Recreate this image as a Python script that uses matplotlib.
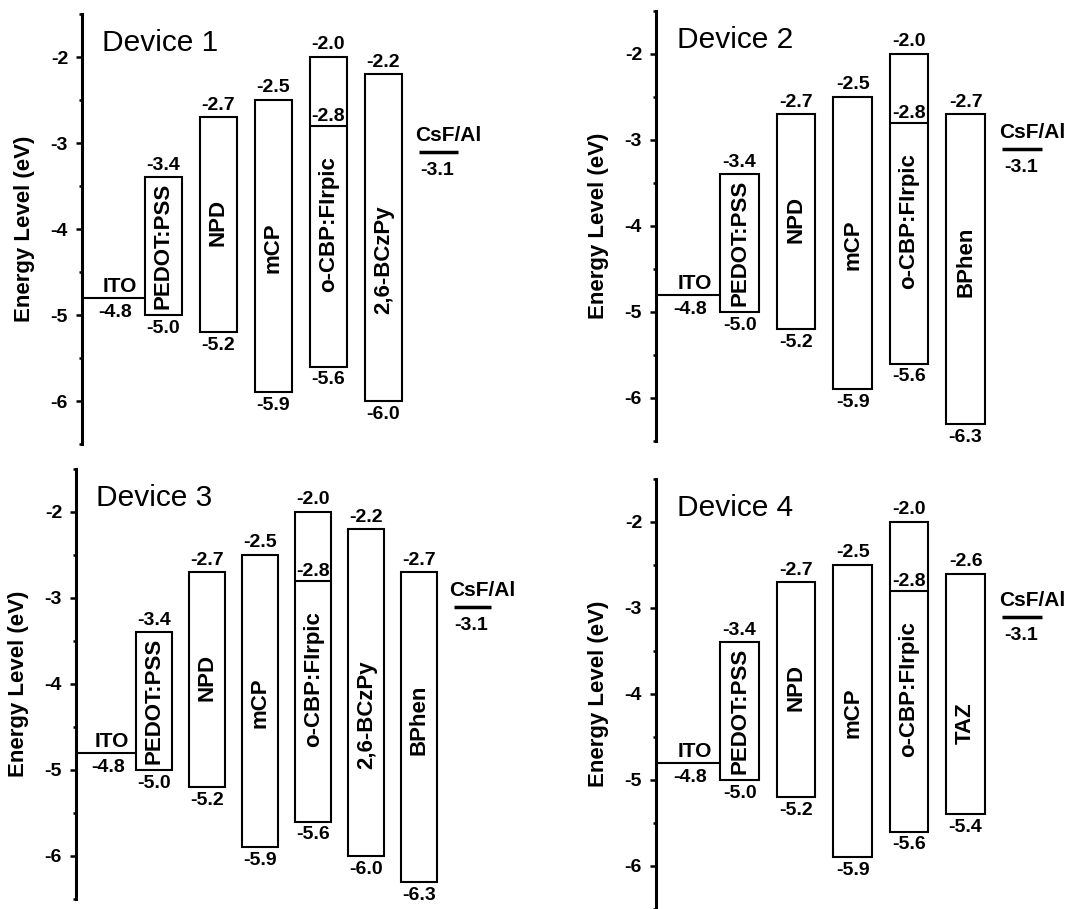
import matplotlib.pyplot as plt
from matplotlib.ticker import MultipleLocator

plt.rcParams['font.family'] = ['Liberation Sans', 'DejaVu Sans']
plt.rcParams['axes.unicode_minus'] = False

# energy levels (eV): LUMO (top) and HOMO (bottom) of each organic layer
titles = ['Device 1', 'Device 2', 'Device 3', 'Device 4']
names = [
    ['PEDOT:PSS', 'NPD', 'mCP', 'o-CBP:FIrpic', '2,6-BCzPy'],
    ['PEDOT:PSS', 'NPD', 'mCP', 'o-CBP:FIrpic', 'BPhen'],
    ['PEDOT:PSS', 'NPD', 'mCP', 'o-CBP:FIrpic', '2,6-BCzPy', 'BPhen'],
    ['PEDOT:PSS', 'NPD', 'mCP', 'o-CBP:FIrpic', 'TAZ'],
]
lumo = [
    [-3.4, -2.7, -2.5, -2.0, -2.2],
    [-3.4, -2.7, -2.5, -2.0, -2.7],
    [-3.4, -2.7, -2.5, -2.0, -2.2, -2.7],
    [-3.4, -2.7, -2.5, -2.0, -2.6],
]
homo = [
    [-5.0, -5.2, -5.9, -5.6, -6.0],
    [-5.0, -5.2, -5.9, -5.6, -6.3],
    [-5.0, -5.2, -5.9, -5.6, -6.0, -6.3],
    [-5.0, -5.2, -5.9, -5.6, -5.4],
]
ito = -4.8
cathode = -3.1
dopant = -2.8  # FIrpic level inside the o-CBP host

# where each material name sits along the box
name_y = {'PEDOT:PSS': -4.2, 'NPD': -3.93, 'mCP': -4.22, 'o-CBP:FIrpic': -3.94,
          '2,6-BCzPy': -4.36, 'BPhen': -4.42, 'TAZ': -4.34}

W, H = 1071, 909
fig = plt.figure(figsize=(W / 100, H / 100), dpi=100)

# left spine x, top y (pixels) and slot spacing for each panel
layout = [(82, 14, 55), (656, 11, 56.5), (76, 469, 53), (656, 479, 56.5)]
ppe = 86  # pixels per eV
bw = 0.68
lw = 1.5
fs_val = 14

for k in range(4):
    left, top, slot = layout[k]
    n = len(names[k])
    xmax = n + 2.3
    width = xmax * slot
    height = 5 * ppe
    ax = fig.add_axes([left / W, 1 - (top + height) / H, width / W, height / H])
    ax.set_xlim(0, xmax)
    ax.set_ylim(-6.5, -1.5)

    xs = [i + 1.48 for i in range(n)]
    ax.bar(xs, [t - b for t, b in zip(lumo[k], homo[k])], bottom=homo[k], width=bw,
           fill=False, edgecolor='black', linewidth=lw)

    for x, nm, t, b in zip(xs, names[k], lumo[k], homo[k]):
        ax.annotate(f'{t:.1f}', (x, t), xytext=(0, 5.5), textcoords='offset points',
                    ha='center', va='baseline', fontsize=fs_val, fontweight='bold')
        ax.annotate(f'{b:.1f}', (x, b), xytext=(0, -3.5), textcoords='offset points',
                    ha='center', va='top', fontsize=fs_val, fontweight='bold')
        ax.text(x, name_y[nm], nm, rotation=90, ha='center', va='center',
                fontsize=16, fontweight='bold')
        if nm.startswith('o-CBP'):
            ax.hlines(dopant, x - bw / 2, x + bw / 2, colors='black', linewidth=lw)
            ax.annotate(f'{dopant:.1f}', (x, dopant), xytext=(0, 3.5), textcoords='offset points',
                        ha='center', va='baseline', fontsize=fs_val, fontweight='bold')

    # ITO anode
    ax.hlines(ito, 0, 1.12, colors='black', linewidth=lw)
    ax.annotate('ITO', (0.68, ito), xytext=(0, 4.5), textcoords='offset points',
                ha='center', va='baseline', fontsize=15, fontweight='bold')
    ax.annotate(f'{ito:.1f}', (0.6, ito), xytext=(0, -4.5), textcoords='offset points',
                ha='center', va='top', fontsize=fs_val, fontweight='bold')

    # cathode
    xc = n + 1.48
    ax.hlines(cathode, xc - 0.35, xc + 0.35, colors='black', linewidth=2.5)
    ax.annotate('CsF/Al', (xc + 0.18, cathode), xytext=(0, 7.5), textcoords='offset points',
                ha='center', va='baseline', fontsize=15, fontweight='bold',
                annotation_clip=False)
    ax.annotate(f'{cathode:.1f}', (xc - 0.02, cathode), xytext=(0, -7.5), textcoords='offset points',
                ha='center', va='top', fontsize=fs_val, fontweight='bold',
                annotation_clip=False)

    ax.text(0.37, -1.84, titles[k], ha='left', va='center', fontsize=21.5)

    for s in ['top', 'right', 'bottom']:
        ax.spines[s].set_visible(False)
    ax.spines['left'].set_linewidth(2.2)
    ax.set_xticks([])
    ax.yaxis.set_major_locator(MultipleLocator(1))
    ax.yaxis.set_minor_locator(MultipleLocator(0.5))
    ax.tick_params(axis='y', which='major', direction='out', length=4.5, width=1.8,
                   labelsize=14, pad=5.5)
    ax.tick_params(axis='y', which='minor', direction='out', length=2.2, width=1.8)
    for t in ax.get_yticklabels():
        t.set_fontweight('bold')
    ax.set_ylabel('Energy Level (eV)', fontsize=16, fontweight='bold')
    ax.yaxis.set_label_coords(-47 / width, 0.5)
    ax.patch.set_alpha(0)

fig.savefig('out.png', dpi=100)
